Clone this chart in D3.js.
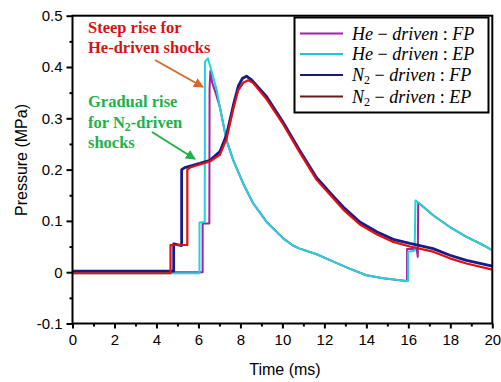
<!DOCTYPE html>
<html><head><meta charset="utf-8">
<script src="https://cdn.jsdelivr.net/npm/d3@7"></script>
<style>body{margin:0;background:#fff}svg{display:block}</style>
</head><body>
<svg id="c" width="501" height="382"></svg>
<script>
const heEP_t = [0, 6.05, 6.05, 6.3, 6.31, 6.45, 6.7, 6.87, 7.02, 7.34, 7.66, 8.13, 8.61, 9.25, 10.04, 10.5, 10.83, 11.63, 12.4, 13.2, 14.0, 14.8, 15.9, 15.99, 15.99, 16.3, 16.34, 16.5, 17.18, 17.98, 18.77, 19.56, 20];
const heEP_p = [-0.002, -0.002, 0.097, 0.098, 0.41, 0.417, 0.381, 0.355, 0.322, 0.257, 0.218, 0.173, 0.134, 0.098, 0.066, 0.052, 0.046, 0.035, 0.021, 0.007, -0.006, -0.012, -0.017, -0.017, 0.040, 0.042, 0.14, 0.135, 0.111, 0.088, 0.069, 0.053, 0.043];
const heFP_t = [0, 6.2, 6.2, 6.52, 6.53, 6.57, 6.65, 6.8, 7.02, 7.34, 7.66, 8.13, 8.61, 9.25, 10.04, 10.5, 10.83, 11.63, 12.4, 13.2, 14.0, 14.8, 15.9, 15.94, 15.94, 16.4, 16.45, 16.47, 16.5, 17.18, 17.98, 18.77, 19.56, 20];
const heFP_p = [0, 0, 0.095, 0.095, 0.36, 0.392, 0.37, 0.352, 0.322, 0.257, 0.218, 0.173, 0.134, 0.098, 0.066, 0.052, 0.046, 0.035, 0.021, 0.007, -0.006, -0.012, -0.017, -0.017, 0.045, 0.045, 0.03, 0.134, 0.135, 0.111, 0.088, 0.069, 0.053, 0.043];
const n2FP_t = [0, 4.82, 4.82, 5.2, 5.2, 5.35, 6.07, 6.55, 7.02, 7.34, 7.66, 7.9, 8.1, 8.29, 8.5, 9.25, 10.04, 10.83, 11.63, 12.42, 12.9, 13.69, 14.49, 15.28, 16.07, 17.18, 17.98, 18.77, 20];
const n2FP_p = [0.002, 0.002, 0.055, 0.052, 0.200, 0.204, 0.212, 0.218, 0.235, 0.268, 0.325, 0.363, 0.378, 0.382, 0.376, 0.342, 0.292, 0.237, 0.184, 0.148, 0.127, 0.098, 0.079, 0.064, 0.056, 0.046, 0.033, 0.023, 0.012];
const n2EP_t = [0, 4.67, 4.67, 5.47, 5.47, 5.6, 6.07, 6.55, 7.02, 7.34, 7.66, 7.9, 8.15, 8.37, 8.6, 9.25, 10.04, 10.83, 11.63, 12.42, 12.9, 13.69, 14.49, 15.28, 16.07, 17.18, 17.98, 18.77, 20];
const n2EP_p = [-0.002, -0.002, 0.053, 0.053, 0.200, 0.204, 0.210, 0.216, 0.229, 0.260, 0.318, 0.355, 0.370, 0.374, 0.369, 0.337, 0.288, 0.233, 0.180, 0.144, 0.122, 0.093, 0.074, 0.059, 0.050, 0.040, 0.027, 0.017, 0.005];

const seriesNames = ["He-driven:FP", "He-driven:EP", "N2-driven:FP", "N2-driven:EP"];
const xTicks = [0, 2, 4, 6, 8, 10, 12, 14, 16, 18, 20];
const yTicks = [-0.1, 0, 0.1, 0.2, 0.3, 0.4, 0.5];
const yTickLabels = ["-0.1", "0", "0.1", "0.2", "0.3", "0.4", "0.5"];

const svg = d3.select("#c");
const L = 72.5, R = 492.3, T = 15.7, B = 323.5;
const x = d3.scaleLinear().domain([0, 20]).range([L, R]);
const y = d3.scaleLinear().domain([-0.1, 0.5]).range([B, T]);

const series = [
  {t: heFP_t, p: heFP_p, color: "#a020a8", lc: "#a020a8", w: 2},
  {t: heEP_t, p: heEP_p, color: "#20d4d8", lc: "#20c8d0", w: 2},
  {t: n2FP_t, p: n2FP_p, color: "#1a1a8a", lc: "#1a1a70", w: 2.8},
  {t: n2EP_t, p: n2EP_p, color: "#e01010", lc: "#701818", w: 2.2}
];
const line = d3.line().x(d => x(d[0])).y(d => y(d[1]));
series.forEach(s => {
  const pts = s.t.map((t, i) => [t, s.p[i]]);
  svg.append("path").attr("d", line(pts)).attr("fill", "none")
    .attr("stroke", s.color).attr("stroke-width", s.w).attr("stroke-linejoin", "round");
});

// axes
const font = "'Liberation Sans', Arial, sans-serif";
const xAxis = d3.axisBottom(x).tickValues(xTicks).tickSize(5).tickFormat(d3.format("d"));
const gx = svg.append("g").attr("transform", `translate(0,${B})`).call(xAxis);
const xMinor = d3.axisBottom(x).tickValues(d3.range(1, 20, 2)).tickSize(3).tickFormat("");
svg.append("g").attr("transform", `translate(0,${B})`).call(xMinor).select(".domain").remove();
const yAxis = d3.axisLeft(y).tickValues(yTicks).tickSize(6).tickFormat((d, i) => yTickLabels[i]);
const gy = svg.append("g").attr("transform", `translate(${L},0)`).call(yAxis);
const yMinor = d3.axisLeft(y).tickValues(d3.range(-0.05, 0.5, 0.1)).tickSize(3).tickFormat("");
svg.append("g").attr("transform", `translate(${L},0)`).call(yMinor).select(".domain").remove();
svg.selectAll(".tick line").attr("stroke", "#000").attr("stroke-width", 2);
[gx, gy].forEach(g => {
  g.select(".domain").remove();
  g.selectAll("text").attr("font-family", font).attr("font-size", 15).attr("fill", "#000");
});
gx.selectAll("text").attr("dy", "0.9em");
gy.selectAll("text").attr("dx", "-1");
svg.append("rect").attr("x", L).attr("y", T).attr("width", R - L).attr("height", B - T)
  .attr("fill", "none").attr("stroke", "#000").attr("stroke-width", 2);

svg.append("text").attr("x", 285).attr("y", 375).attr("text-anchor", "middle")
  .attr("font-family", font).attr("font-size", 16).text("Time (ms)");
svg.append("text").attr("transform", "translate(21,160) rotate(-90)").attr("text-anchor", "middle")
  .attr("dy", "0.35em").attr("font-family", font).attr("font-size", 16).text("Pressure (MPa)");

// legend
const lg = svg.append("g");
lg.append("rect").attr("x", 294.5).attr("y", 17.5).attr("width", 194).attr("height", 95)
  .attr("fill", "#fff").attr("stroke", "#000").attr("stroke-width", 2);
const legY = [33.5, 54, 75, 96.5];
const serif = "'Liberation Serif', 'DejaVu Serif', serif";
series.forEach((s, i) => {
  lg.append("line").attr("x1", 300).attr("x2", 343).attr("y1", legY[i]).attr("y2", legY[i])
    .attr("stroke", s.lc).attr("stroke-width", 2);
  const tx = lg.append("text").attr("x", 352).attr("y", legY[i] + 6)
    .attr("font-family", serif).attr("font-style", "italic").attr("font-size", 18);
  const [a, b] = seriesNames[i].split(":");
  const [g1, g2] = a.split("-");
  if (g1 === "N2") {
    tx.append("tspan").text("N");
    tx.append("tspan").attr("font-style", "normal").attr("font-size", 12).attr("dy", 3).text("2");
    tx.append("tspan").attr("dy", -3).attr("font-style", "normal").text(" \u2212 ");
  } else {
    tx.append("tspan").text(g1);
    tx.append("tspan").attr("font-style", "normal").text(" \u2212 ");
  }
  tx.append("tspan").text(g2);
  tx.append("tspan").attr("font-style", "normal").text(" : ");
  tx.append("tspan").text(b);
});

// annotations
function ann(xp, yp, color) {
  return svg.append("text").attr("x", xp).attr("y", yp).attr("fill", color)
    .attr("font-family", "'Liberation Serif', 'DejaVu Serif', serif")
    .attr("font-weight", "bold").attr("font-size", 16.5);
}
ann(88, 33, "#d41414").text("Steep rise for");
ann(88, 53, "#d41414").text("He-driven shocks");
ann(88, 107, "#22b04a").text("Gradual rise");
const t2 = ann(88, 128, "#22b04a");
t2.append("tspan").text("for N");
t2.append("tspan").attr("font-size", 12).attr("dy", 3).text("2");
t2.append("tspan").attr("dy", -3).text("-driven");
ann(88, 148, "#22b04a").text("shocks");

const defs = svg.append("defs");
[["ao", "#d8692a"], ["ag", "#22b04a"]].forEach(([id, c]) => {
  defs.append("marker").attr("id", id).attr("viewBox", "0 0 10 10").attr("refX", 9).attr("refY", 5)
    .attr("markerWidth", 5).attr("markerHeight", 5).attr("orient", "auto")
    .append("path").attr("d", "M0,0L10,5L0,10Z").attr("fill", c);
});
svg.append("line").attr("x1", 155).attr("y1", 60).attr("x2", 203).attr("y2", 87)
  .attr("stroke", "#d8692a").attr("stroke-width", 2).attr("marker-end", "url(#ao)");
svg.append("line").attr("x1", 152).attr("y1", 132).attr("x2", 195).attr("y2", 159)
  .attr("stroke", "#22b04a").attr("stroke-width", 2).attr("marker-end", "url(#ag)");
</script>
</body></html>
